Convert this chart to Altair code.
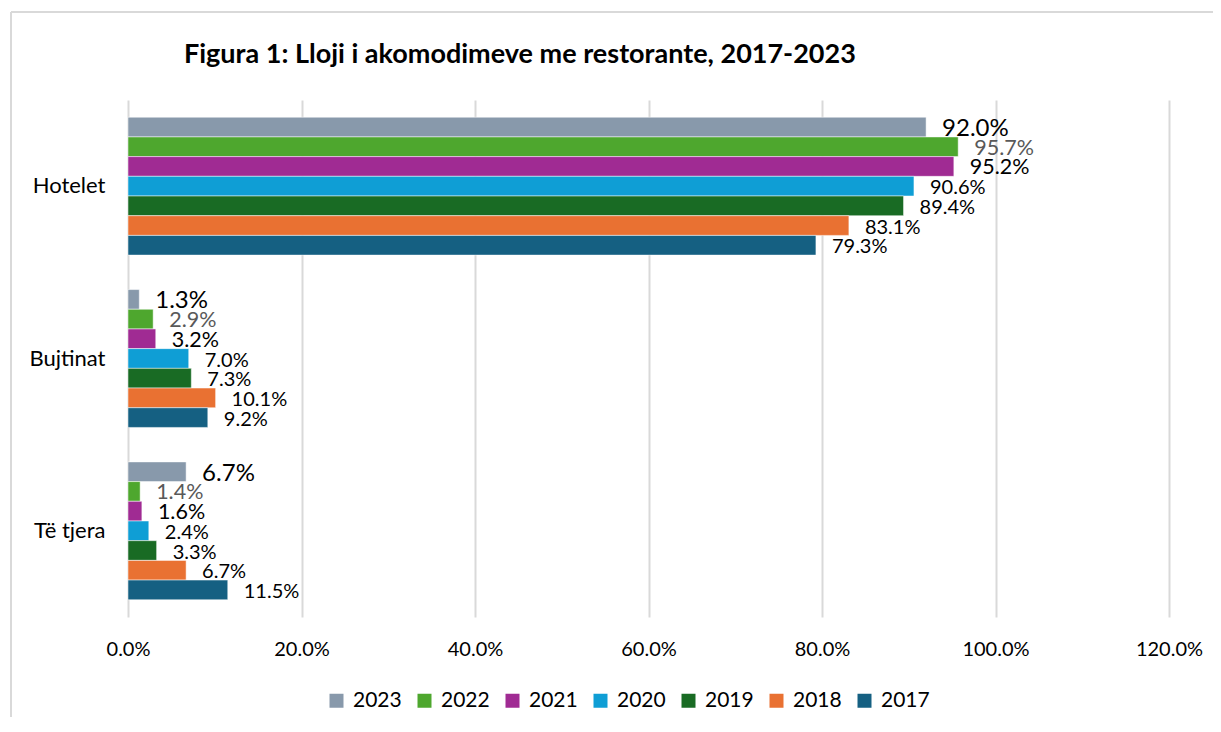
import altair as alt
import pandas as pd

categories = ["Hotelet", "Bujtinat", "Të tjera"]
years = ["2023", "2022", "2021", "2020", "2019", "2018", "2017"]
colors = ["#8899ab", "#4ea72e", "#a02b93", "#0f9ed5", "#196b24", "#e97132", "#156082"]
values = {
    "Hotelet":  [92.0, 95.7, 95.2, 90.6, 89.4, 83.1, 79.3],
    "Bujtinat": [1.3, 2.9, 3.2, 7.0, 7.3, 10.1, 9.2],
    "Të tjera": [6.7, 1.4, 1.6, 2.4, 3.3, 6.7, 11.5],
}
label_sizes = [24, 21.5, 21.5, 20, 20, 20, 20]
tick_values = [0, 0.2, 0.4, 0.6, 0.8, 1.0, 1.2]

rows = []
for c in categories:
    for y, v, s in zip(years, values[c], label_sizes):
        rows.append({"cat": c, "year": y, "val": v / 100, "lsize": s})
df = pd.DataFrame(rows)

FONT = "Lato"

y_enc = alt.Y("cat:N", sort=categories, title=None,
              scale=alt.Scale(paddingInner=0.2, paddingOuter=0.1),
              axis=alt.Axis(ticks=False, domain=False, labelFontSize=22,
                            labelColor="#000000", labelPadding=23, labelFont=FONT))
yoff = alt.YOffset("year:N", sort=years, scale=alt.Scale(domain=years, paddingInner=0))
x_enc = alt.X("val:Q", title=None,
              scale=alt.Scale(domain=[0, 1.2], nice=False),
              axis=alt.Axis(values=tick_values, format=".1%", ticks=False, domain=False,
                            labelFontSize=20, labelColor="#000000", labelPadding=22,
                            labelFlush=False,
                            labelFont=FONT, gridColor="#d9d9d9", gridWidth=2))

bars = alt.Chart(df).mark_bar(stroke="white", strokeWidth=0.5).encode(
    y=y_enc, yOffset=yoff, x=x_enc,
    color=alt.Color("year:N", sort=years,
                    scale=alt.Scale(domain=years, range=colors),
                    legend=alt.Legend(title=None, orient="none", direction="horizontal",
                                      legendX=198, legendY=590, symbolType="square",
                                      symbolSize=196, symbolStrokeWidth=0,
                                      labelFontSize=21, labelFont=FONT, labelColor="#000000",
                                      labelOffset=6, columnPadding=12, symbolOpacity=1)),
)

text = alt.Chart(df).mark_text(align="left", baseline="middle", dx=16, dy=2, font=FONT).encode(
    y=alt.Y("cat:N", sort=categories), yOffset=alt.YOffset("year:N", sort=years), x="val:Q",
    text=alt.Text("val:Q", format=".1%"),
    size=alt.Size("lsize:Q", scale=None),
    color=alt.condition(alt.datum.year == "2022", alt.value("#595959"), alt.value("#000000")),
)

frame_v = alt.Chart(df).mark_rule(color="#d9d9d9", strokeWidth=2, clip=False).encode(
    x=alt.value(-117), y=alt.value(-88), y2=alt.value(640))
frame_h = alt.Chart(df).mark_rule(color="#d9d9d9", strokeWidth=2, clip=False).encode(
    x=alt.value(-117), x2=alt.value(1090), y=alt.value(-88))

chart = alt.layer(bars, text, frame_v, frame_h).properties(
    width=1041, height=517,
    autosize=alt.AutoSizeParams(type="none"),
    padding={"left": 120, "top": 92, "right": 44, "bottom": 100},
    title=alt.TitleParams("Figura 1: Lloji i akomodimeve me restorante, 2017-2023",
                          anchor="start", frame="group", dx=56, offset=-58,
                          fontSize=27, font=FONT, fontWeight="bold", color="#000000"),
).configure_view(stroke=None)

chart.save("out.html", embed_options={"renderer": "svg", "actions": False})
